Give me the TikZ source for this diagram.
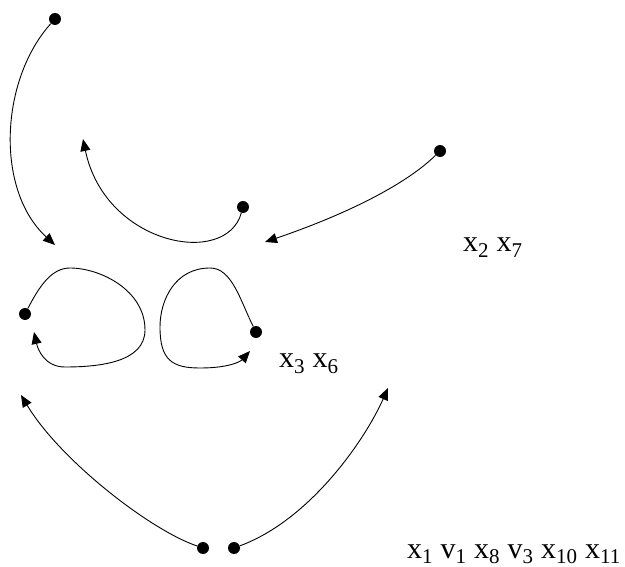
\documentclass[tikz,border=0pt]{standalone}
\usepackage{fontspec}
\setmainfont{Liberation Serif}
\usetikzlibrary{arrows.meta}
\tikzset{
  dot/.style={circle,fill=black,inner sep=0pt,minimum size=12pt},
  conn/.style={line width=0.9pt,-{Triangle[length=12pt,width=10pt]}},
  lbl/.style={font=\fontsize{30}{34}\selectfont,inner sep=0pt},
}
\newcommand{\sub}[1]{\textsubscript{#1}}
\begin{document}
\begin{tikzpicture}[x=1pt,y=-1pt]
\useasboundingbox (0,0) rectangle (625,567);
% dots
\node[dot] (a) at (55,19) {};
\node[dot] (b) at (243,207) {};
\node[dot] (c) at (440,151) {};
\node[dot] (d) at (25,314) {};
\node[dot] (e) at (256,332) {};
\node[dot] (f) at (203,548) {};
\node[dot] (g) at (234,548) {};
% arrow ends
\coordinate (ta) at (55,245);
\coordinate (tb) at (83,139);
\coordinate (tc) at (265,242);
\coordinate (td) at (34,332);
\coordinate (te) at (250,351);
\coordinate (tf) at (21,395);
\coordinate (tg) at (388,388);
% connectors
\draw[conn] (a) .. controls (0,80) and (-5,190) .. (ta);
\draw[conn] (b) .. controls (226,268) and (105,245) .. (tb);
\draw[conn] (c) .. controls (400,190) and (330,220) .. (tc);
\draw[conn] (d) .. controls (40,285) and (52,268) .. (70,268)
  .. controls (100,268) and (145,290) .. (145,330)
  .. controls (145,362) and (100,367) .. (65,367)
  .. controls (45,367) and (38,350) .. (td);
\draw[conn] (e) .. controls (240,300) and (232,268) .. (210,268)
  .. controls (175,268) and (160,300) .. (160,327)
  .. controls (160,360) and (172,368) .. (200,368)
  .. controls (228,368) and (240,362) .. (te);
\draw[conn] (f) .. controls (150,530) and (60,460) .. (tf);
\draw[conn] (g) .. controls (310,520) and (365,440) .. (tg);
% labels
\node[lbl,anchor=base west] (l1) at (463,252) {x\sub{2} x\sub{7}};
\node[lbl,anchor=base west] (l2) at (279,368) {x\sub{3} x\sub{6}};
\node[lbl,anchor=base west] (l3) at (407,558) {x\sub{1} v\sub{1} x\sub{8} v\sub{3} x\sub{10} x\sub{11}};
\end{tikzpicture}
\end{document}
